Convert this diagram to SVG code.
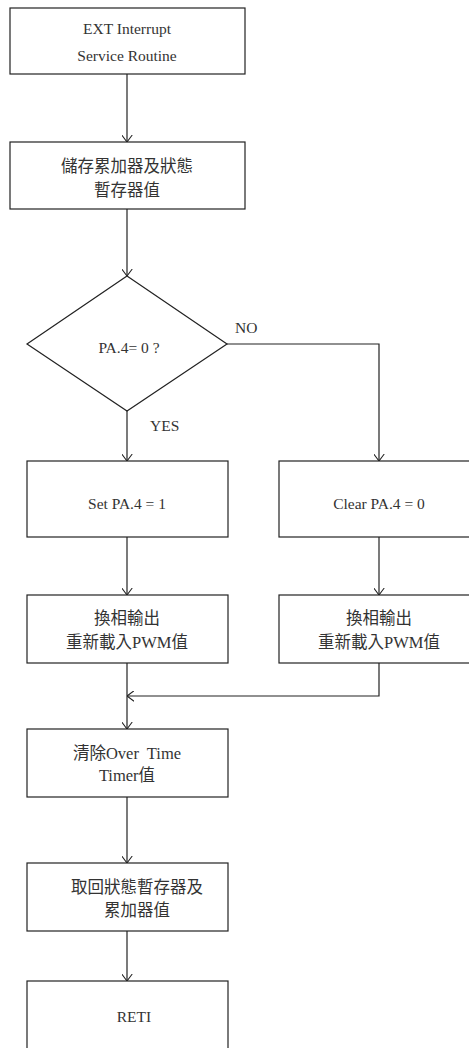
<svg xmlns="http://www.w3.org/2000/svg" width="469" height="1048" viewBox="0 0 469 1048">
<style>
.box{fill:#fff;stroke:#222;stroke-width:1.2}
.t{font-family:"Liberation Serif","Noto Sans CJK TC",serif;font-size:15.5px;fill:#333;text-anchor:middle}
.c{font-family:"Liberation Serif","Noto Sans CJK TC",serif;font-size:16.5px;fill:#333;text-anchor:middle}
.lbl{font-family:"Liberation Serif",serif;font-size:15.5px;fill:#333}
.ln{fill:none;stroke:#222;stroke-width:1.2}
</style>
<defs>
<marker id="arr" viewBox="0 0 8 12" refX="8" refY="6" markerWidth="7" markerHeight="11" orient="auto" markerUnits="userSpaceOnUse">
<path d="M0,0 L8,6 L0,12" fill="none" stroke="#222" stroke-width="1.2"/>
</marker>
</defs>
<g id="connectors">
<path class="ln" d="M127,74 V142" marker-end="url(#arr)"/>
<path class="ln" d="M127,209 V276" marker-end="url(#arr)"/>
<path class="ln" d="M227,344 H379 V461" marker-end="url(#arr)"/>
<path class="ln" d="M127,411 V461" marker-end="url(#arr)"/>
<path class="ln" d="M127,537 V595" marker-end="url(#arr)"/>
<path class="ln" d="M379,537 V595" marker-end="url(#arr)"/>
<path class="ln" d="M379,663 V696 H127" marker-end="url(#arr)"/>
<path class="ln" d="M127,663 V729" marker-end="url(#arr)"/>
<path class="ln" d="M127,797 V863" marker-end="url(#arr)"/>
<path class="ln" d="M127,931 V981" marker-end="url(#arr)"/>
<text class="lbl" x="235" y="333">NO</text>
<text class="lbl" x="150" y="431">YES</text>
</g>
<g id="start">
<rect class="box" x="10" y="8" width="235" height="66"/>
<text class="t" x="127" y="34">EXT Interrupt</text>
<text class="t" x="127" y="61">Service Routine</text>
</g>
<g id="save">
<rect class="box" x="10" y="142" width="235" height="67"/>
<text class="c" x="127" y="172">儲存累加器及狀態</text>
<text class="c" x="127" y="196">暫存器值</text>
</g>
<g id="decision">
<polygon class="box" points="127,276 227,344 127,411 27,344"/>
<text class="t" x="129" y="353">PA.4= 0 ?</text>
</g>
<g id="set">
<rect class="box" x="27" y="461" width="201" height="76"/>
<text class="t" x="127" y="509">Set PA.4 = 1</text>
</g>
<g id="clear">
<rect class="box" x="279" y="461" width="201" height="76"/>
<text class="t" x="379" y="509">Clear PA.4 = 0</text>
</g>
<g id="pwm-left">
<rect class="box" x="27" y="595" width="201" height="68"/>
<text class="c" x="127" y="624">換相輸出</text>
<text class="c" x="127" y="648">重新載入PWM值</text>
</g>
<g id="pwm-right">
<rect class="box" x="279" y="595" width="201" height="68"/>
<text class="c" x="379" y="624">換相輸出</text>
<text class="c" x="379" y="648">重新載入PWM值</text>
</g>
<g id="clear-timer">
<rect class="box" x="27" y="729" width="201" height="68"/>
<text class="c" x="127" y="759" xml:space="preserve">清除Over  Time</text>
<text class="c" x="127" y="781">Timer值</text>
</g>
<g id="restore">
<rect class="box" x="27" y="863" width="201" height="68"/>
<text class="c" x="137" y="893">取回狀態暫存器及</text>
<text class="c" x="137" y="916">累加器值</text>
</g>
<g id="reti">
<rect class="box" x="27" y="981" width="201" height="70"/>
<text class="t" x="134" y="1022">RETI</text>
</g>
</svg>
